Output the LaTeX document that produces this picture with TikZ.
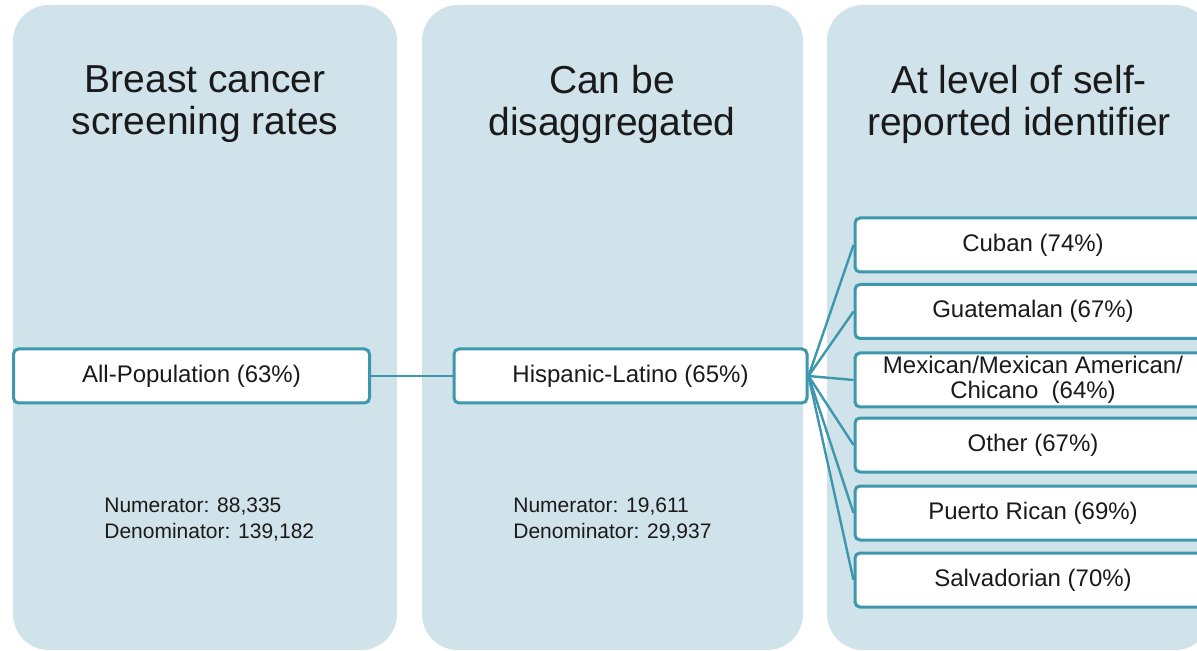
\documentclass[tikz,border=0pt]{standalone}
\usepackage{fontspec}
\setmainfont{Liberation Sans}
\definecolor{panelfill}{HTML}{D0E3EA}
\definecolor{teal}{HTML}{3D97AD}
\definecolor{ink}{HTML}{1A1A1A}
\tikzset{
  panel/.style={fill=panelfill, draw=none, rounded corners=18pt},
  title/.style={align=center, text=ink, inner sep=0pt, font=\fontsize{19.5pt}{21pt}\selectfont},
  catbox/.style={draw=teal, line width=1.5pt, fill=white, rounded corners=2.5pt,
    minimum height=27pt, inner sep=0pt, align=center, text=ink,
    font=\fontsize{12pt}{12.5pt}\selectfont},
  subbox/.style={catbox, minimum width=178pt},
  link/.style={draw=teal, line width=1.2pt},
  counts/.style={align=left, text=ink, inner sep=0pt, anchor=west,
    font=\fontsize{10.5pt}{13pt}\selectfont}
}
\begin{document}
\begin{tikzpicture}[x=0.5pt, y=-0.5pt]
\clip (0,0) rectangle (1197,651);
\fill[white] (0,0) rectangle (1197,651);
% panels
\path[panel] (13,5) rectangle (397,650);
\path[panel] (422,5) rectangle (803,650);
\path[panel] (827,5) rectangle (1211,650);
% titles
\node[title] (t1) at (205,104) {Breast cancer\\screening rates};
\node[title] (t2) at (612,104) {Can be\\disaggregated};
\node[title] (t3) at (1019,104) {At level of self-\\reported identifier};
% main boxes
\node[catbox, minimum width=178pt] (all) at (191.5,376) {All-Population (63\%)};
\node[catbox, minimum width=176.5pt] (hisp) at (630.5,376) {Hispanic-Latino (65\%)};
% sub boxes
\node[subbox] (cub) at (1033,245) {Cuban (74\%)};
\node[subbox] (gua) at (1033,311.5) {Guatemalan (67\%)};
\node[subbox] (mex) at (1033,380) {Mexican/Mexican American/\\Chicano\ \ (64\%)};
\node[subbox] (oth) at (1033,445) {Other (67\%)};
\node[subbox] (pr) at (1033,513) {Puerto Rican (69\%)};
\node[subbox] (sal) at (1033,580) {Salvadorian (70\%)};
% connectors
\draw[link] (all.east) -- (hisp.west);
\foreach \n in {cub,gua,mex,oth,pr,sal}{
  \draw[link] (hisp.east) -- (\n.west);
}
% counts
\node[counts] (c1) at (104,520) {Numerator: 88,335\\Denominator: 139,182};
\node[counts] (c2) at (513,520) {Numerator: 19,611\\Denominator: 29,937};
\end{tikzpicture}
\end{document}
